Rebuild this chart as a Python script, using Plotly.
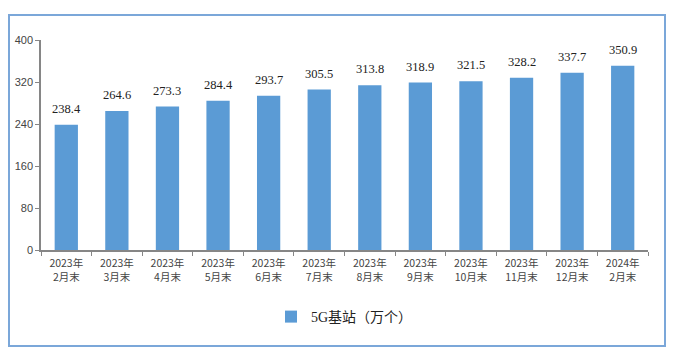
import plotly.graph_objects as go

categories = ["2023年<br>2月末", "2023年<br>3月末", "2023年<br>4月末", "2023年<br>5月末",
              "2023年<br>6月末", "2023年<br>7月末", "2023年<br>8月末", "2023年<br>9月末",
              "2023年<br>10月末", "2023年<br>11月末", "2023年<br>12月末", "2024年<br>2月末"]
values = [238.4, 264.6, 273.3, 284.4, 293.7, 305.5, 313.8, 318.9, 321.5, 328.2, 337.7, 350.9]
y_ticks = [0, 80, 160, 240, 320, 400]
series_name = "5G基站（万个）"

# page body has an 8px default margin; work in page pixel coordinates and offset
OFF = 8
W, H = 675 - OFF, 357 - OFF
L, R, T, B = 41 - OFF, 675 - 648, 40 - OFF, 357 - 250
pw, ph = W - L - R, H - T - B

fig = go.Figure()
fig.add_trace(go.Bar(
    x=categories, y=values, name=series_name,
    marker=dict(color="#5B9BD5", line=dict(width=0)),
    width=0.46, showlegend=True,
))

for c, v in zip(categories, values):
    fig.add_annotation(x=c, y=v, text=f"{v:.1f}", showarrow=False,
                       yanchor="bottom", yshift=7,
                       font=dict(family="Liberation Serif", size=12.5, color="#222"))

def px_x(x):
    return (x - OFF - L) / pw

def px_y(y):
    return (H - B - (y - OFF)) / ph

fig.add_shape(type="rect", xref="paper", yref="paper",
              x0=px_x(9), x1=px_x(665), y0=px_y(346), y1=px_y(15),
              line=dict(color="#7BA7D9", width=2), fillcolor="rgba(0,0,0,0)", layer="below")

fig.update_layout(
    width=W, height=H,
    margin=dict(l=L, r=R, t=T, b=B, autoexpand=False),
    plot_bgcolor="white", paper_bgcolor="white",
    xaxis=dict(showline=True, linecolor="#868686", linewidth=1.5, automargin=False,
               ticks="outside", tickson="boundaries", ticklen=4, tickcolor="#868686",
               ticklabelstandoff=3,
               tickfont=dict(family="Noto Sans CJK SC", size=10.5, color="#444"),
               showgrid=False, tickangle=0),
    yaxis=dict(range=[0, 400], tickvals=y_ticks, showline=True, linecolor="#868686",
               linewidth=1.5, ticks="outside", ticklen=4, tickcolor="#868686", automargin=False,
               tickfont=dict(family="Liberation Sans", size=11, color="#444"),
               showgrid=False, zeroline=False),
    legend=dict(orientation="h", x=0.5, xanchor="center", y=px_y(317), yanchor="middle",
                itemwidth=30,
                font=dict(family="Liberation Serif, Noto Sans CJK SC", size=14, color="#222")),
)

fig.write_html("out.html")
